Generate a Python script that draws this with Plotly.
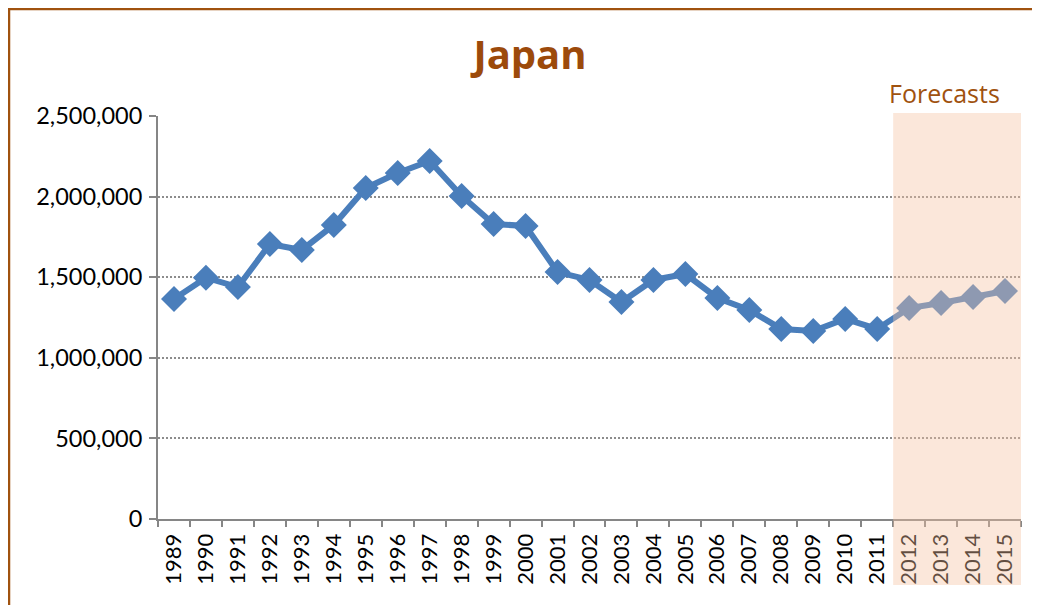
import plotly.graph_objects as go

years = [str(y) for y in range(1989, 2016)]
values = [1365000, 1497000, 1439000, 1706000, 1669000, 1824000, 2053000, 2146000, 2221000,
          2004000, 1830000, 1818000, 1532000, 1483000, 1346000, 1483000, 1520000, 1371000,
          1297000, 1179000, 1166000, 1241000, 1179000, 1309000, 1340000, 1377000, 1414000]
forecast_start = "2012"
forecast_end = "2015"

OFF = 8  # page body margin
W, H = 1040 - OFF, 605 - OFF
L, R, T, B = 158 - OFF, 19, 116 - OFF, 86
pw, ph = W - L - R, H - T - B

def px_x(x):
    return (x - OFF - L) / pw

def px_y(y):
    return (H - B - (y - OFF)) / ph

fig = go.Figure()
fig.add_trace(go.Scatter(
    x=years, y=values, mode="lines+markers",
    line=dict(color="#4A7EBB", width=6),
    marker=dict(symbol="diamond", size=20, color="#4A7EBB"),
    cliponaxis=False, showlegend=False,
))

i0 = years.index(forecast_start) - 0.5
i1 = years.index(forecast_end) + 0.5

shapes = [
    dict(type="rect", xref="paper", yref="paper", x0=px_x(9), x1=px_x(1080), y0=px_y(640), y1=px_y(9),
         line=dict(color="#A0520F", width=2.5), fillcolor="white", layer="below"),
    dict(type="rect", xref="x", yref="paper", x0=i0, x1=i1, y0=px_y(585), y1=px_y(113),
         line=dict(width=0), fillcolor="rgba(245,195,162,0.4)", layer="above"),
]

fig.update_layout(
    width=W, height=H,
    margin=dict(l=L, r=R, t=T, b=B),
    paper_bgcolor="#FFF8EC", plot_bgcolor="rgba(0,0,0,0)",
    font=dict(family="Lato, 'Open Sans', sans-serif", color="#000000"),
    shapes=shapes,
    title=dict(text="<b>Japan</b>", x=(530 - OFF) / W, xanchor="center",
               y=1 - (55 - OFF) / H, yanchor="middle",
               font=dict(size=40, color="#9C4A0B", family="'Open Sans', Lato, sans-serif")),
    annotations=[dict(text="Forecasts", xref="paper", yref="paper", x=px_x(944), y=px_y(93),
                      xanchor="center", yanchor="middle", showarrow=False,
                      font=dict(size=25, color="#A0520F", family="'Open Sans', Lato, sans-serif"))],
)
fig.update_xaxes(
    type="category", range=[-0.5, len(years) - 0.5],
    tickangle=-90, tickfont=dict(size=22), tickson="boundaries",
    ticks="outside", ticklen=6, tickcolor="#868686", tickwidth=2,
    showline=True, linecolor="#868686", linewidth=2, showgrid=False,
    ticklabelstandoff=4,
)
fig.update_yaxes(
    range=[0, 2500000], dtick=500000, tickformat=",",
    tickfont=dict(size=23.5), ticks="outside", ticklen=7, tickcolor="#868686", tickwidth=2,
    showline=True, linecolor="#868686", linewidth=2,
    showgrid=True, gridcolor="#8C8C8C", griddash="2px,2px", gridwidth=1.5,
    zeroline=False, ticklabelstandoff=2,
)

fig.write_html("out.html")
